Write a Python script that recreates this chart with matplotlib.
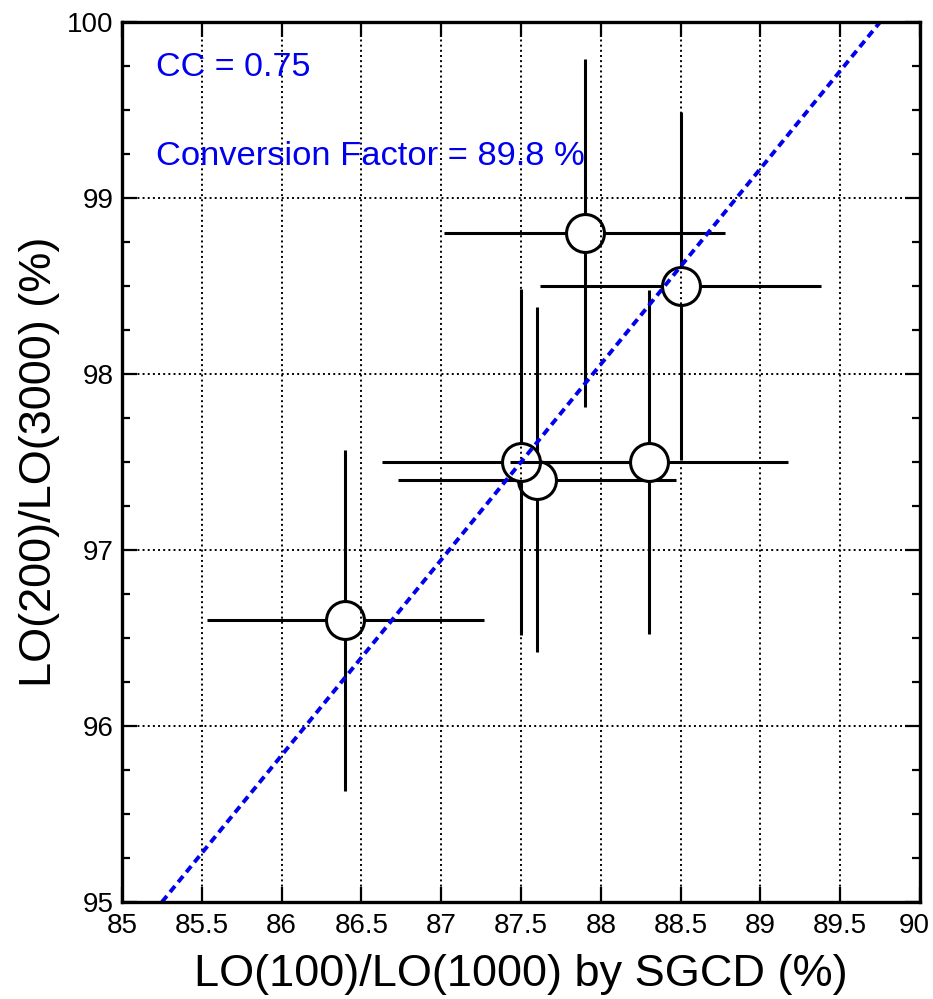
import numpy as np
import matplotlib
matplotlib.use("Agg")
import matplotlib.pyplot as plt
import matplotlib.transforms as mtransforms
from matplotlib.ticker import MultipleLocator

plt.rcParams['font.family'] = ['Liberation Sans', 'DejaVu Sans']

# data points (drawing order matters for the overlaps)
x = [86.4, 87.6, 87.5, 88.3, 87.9, 88.5]
y = [96.6, 97.4, 97.5, 97.5, 98.8, 98.5]
xerr = [0.865, 0.87, 0.87, 0.87, 0.88, 0.88]
yerr = [0.97, 0.98, 0.985, 0.98, 0.99, 0.99]

# conversion line end points
fit_x = [85.25, 89.75]
fit_y = [95.0, 100.0]

fig = plt.figure(figsize=(9.33, 9.99), dpi=100)
ax = fig.add_axes([0.1308, 0.0971, 0.8553, 0.8809])

for i in range(len(x)):
    ax.errorbar(x[i], y[i], xerr=xerr[i], yerr=yerr[i], fmt='o',
                mfc='white', mec='black', ms=27.3, mew=2.2,
                ecolor='black', elinewidth=2.2, capsize=0, zorder=3 + i)

ax.plot(fit_x, fit_y, color='#0000ee', lw=2.8, dashes=(2.0, 1.3), zorder=21)

ax.text(85.21, 99.693, 'CC = 0.75', color='#0000ee', fontsize=24.5, zorder=22)
ax.text(85.21, 99.1875, 'Conversion Factor = 89.8 %', color='#0000ee',
        fontsize=24.8, zorder=22)

ax.set_xlim(85, 90)
ax.set_ylim(95, 100)
ax.yaxis.set_major_locator(MultipleLocator(1))
ax.yaxis.set_minor_locator(MultipleLocator(0.25))
ax.set_xticks(np.arange(85, 90.01, 0.5))
ax.set_xticklabels(['85', '85.5', '86', '86.5', '87', '87.5', '88', '88.5',
                    '89', '89.5', '90'])

ax.grid(True, which='major', color='black', linestyle=':', lw=1.4)
ax.xaxis.set_zorder(20)
ax.yaxis.set_zorder(20)

ax.tick_params(which='major', direction='in', length=11, width=1.6,
               top=True, right=True, labelsize=20)
ax.tick_params(which='minor', direction='in', length=6, width=1.6,
               left=True, right=True)
ax.tick_params(axis='x', pad=8)
ax.tick_params(axis='y', pad=6)
for sp in ax.spines.values():
    sp.set_linewidth(2.4)
    sp.set_zorder(25)

# last x label sits on the figure edge, nudge it in a bit
last = ax.get_xticklabels()[-1]
last.set_transform(last.get_transform() +
                   mtransforms.ScaledTranslation(-4 / 72, 0, fig.dpi_scale_trans))

ax.set_xlabel('LO(100)/LO(1000) by SGCD (%)', fontsize=32.5, labelpad=11)
ax.set_ylabel('LO(200)/LO(3000) (%)', fontsize=32.5, labelpad=5)

fig.savefig('out.png', dpi=100)
